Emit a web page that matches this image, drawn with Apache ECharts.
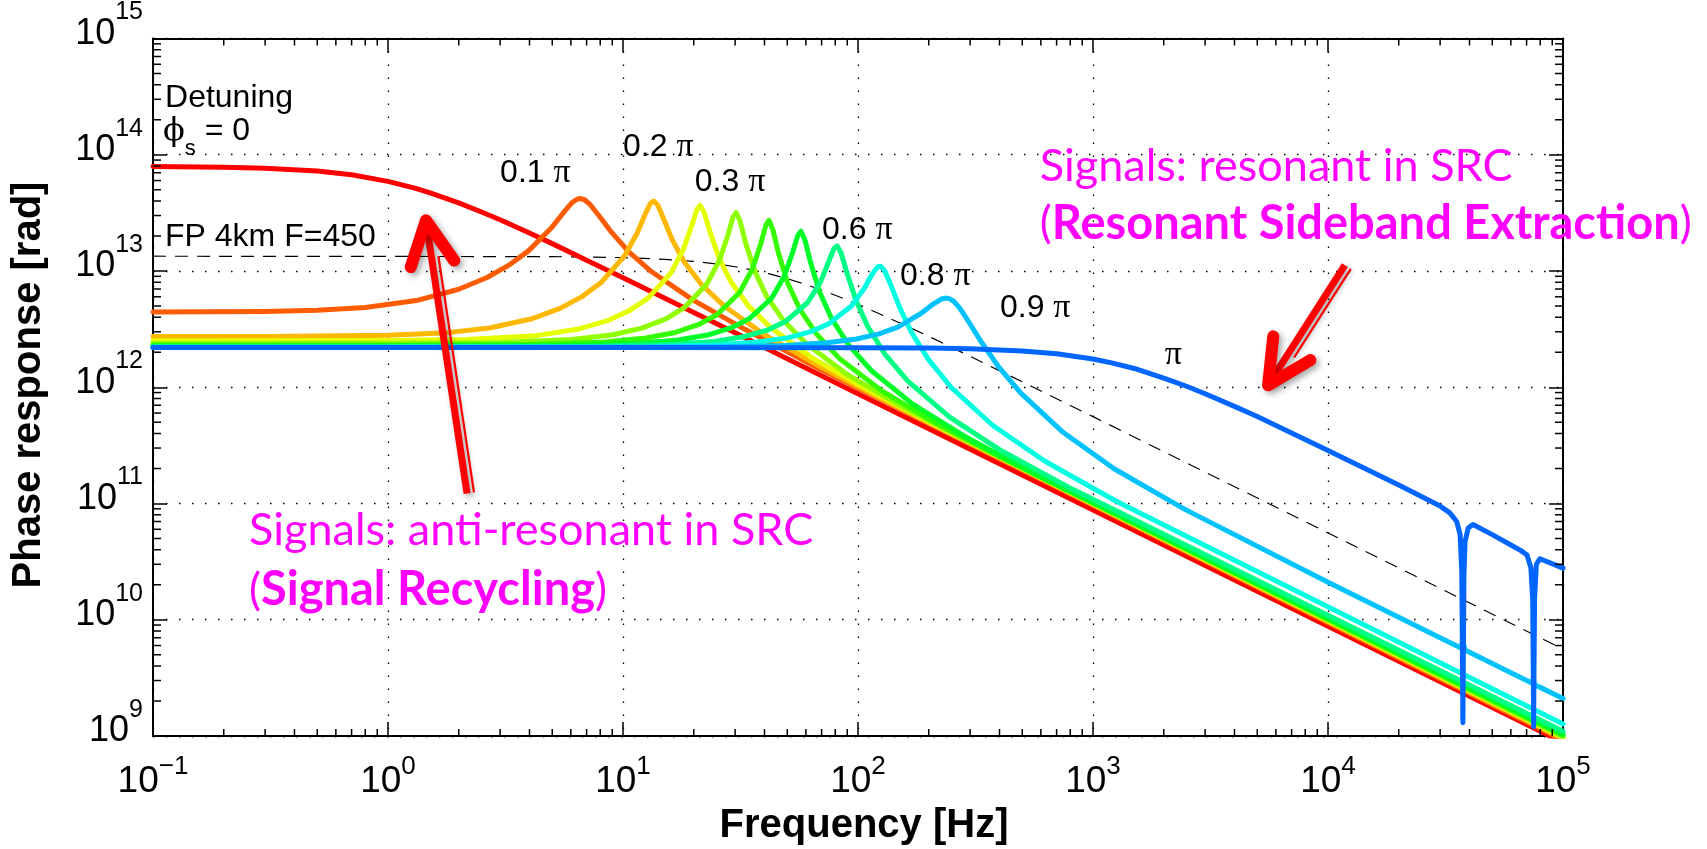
<!DOCTYPE html>
<html>
<head>
<meta charset="utf-8">
<title>Phase response vs frequency</title>
<script src="https://cdn.jsdelivr.net/npm/echarts@6.0.0/dist/echarts.min.js"></script>
<style>
html,body{margin:0;padding:0;background:#ffffff;}
#chart{width:1707px;height:849px;}
</style>
</head>
<body>
<div id="chart"></div>
<script>
// ---------------- data ----------------
const xTickExponents = [-1, 0, 1, 2, 3, 4, 5];
const yTickExponents = [9, 10, 11, 12, 13, 14, 15];
const minorMultipliers = [2, 3, 4, 5, 6, 7, 8, 9];
const detuningNames = ['0', '0.1 π', '0.2 π', '0.3 π', '0.4 π', '0.5 π', '0.6 π', '0.7 π', '0.8 π', '0.9 π', 'π'];

// [frequency Hz, phase response rad]
const phi00 = [[0.1,7.91e13],[0.2,7.81e13],[0.3,7.66e13],[0.5,7.24e13],[0.7,6.72e13],[1,5.9e13],[1.3,5.16e13],[1.5,4.72e13],[2,3.85e13],[2.5,3.22e13],[3,2.76e13],[4,2.12e13],[5,1.72e13],[7,1.24e13],[10,8.76e12],[15,5.86e12],[20,4.4e12],[30,2.94e12],[50,1.76e12],[100,8.8e11],[100000,8.8e8]];
const phi01 = [[0.1,4.43e12],[0.3,4.49e12],[0.5,4.6e12],[0.8,4.86e12],[1.32,5.57e12],[2,6.97e12],[2.64,8.8e12],[3.3,1.135e13],[3.96,1.49e13],[4.95,2.34e13],[5.61,3.22e13],[6.07,3.87e13],[6.4,4.16e13],[6.6,4.2e13],[6.86,4.1e13],[7.26,3.72e13],[7.92,2.97e13],[8.91,2.17e13],[10.56,1.47e13],[13.2,9.9e12],[19.8,5.65e12],[33,3.15e12],[66,1.5e12],[100000,9.2e8]];
const phi02 = [[0.1,2.73e12],[0.3,2.735e12],[1,2.8e12],[1.8,2.95e12],[2.7,3.23e12],[4.05,3.86e12],[5.4,4.77e12],[6.75,6.08e12],[8.1,8.01e12],[10.13,1.34e13],[11.48,2.11e13],[12.42,3.08e13],[13.1,3.83e13],[13.5,4.0e13],[14.04,3.7e13],[14.85,2.84e13],[16.2,1.86e13],[18.2,1.2e13],[21.6,7.63e12],[27,4.97e12],[40.5,2.79e12],[67.5,1.54e12],[135,7.4e11],[100000,9.5e8]];
const phi03 = [[0.1,2.5e12],[1,2.52e12],[2.13,2.57e12],[4.26,2.78e12],[6.39,3.15e12],[8.52,3.72e12],[10.65,4.56e12],[12.78,5.84e12],[15.98,9.6e12],[18.1,1.55e13],[19.6,2.45e13],[20.66,3.4e13],[21.3,3.66e13],[22.15,3.2e13],[23.43,2.18e13],[25.56,1.31e13],[28.76,8.08e12],[34.08,5.04e12],[42.6,3.24e12],[63.9,1.79e12],[106.5,9.87e11],[213,4.72e11],[100000,9.7e8]];
const phi04 = [[0.1,2.38e12],[1,2.39e12],[3.03,2.43e12],[6.06,2.57e12],[9.09,2.83e12],[12.12,3.24e12],[15.15,3.85e12],[18.18,4.81e12],[22.7,7.68e12],[25.76,1.24e13],[27.88,2.0e13],[29.39,2.91e13],[30.3,3.19e13],[31.5,2.68e13],[33.3,1.72e13],[36.4,9.93e12],[40.9,6.02e12],[48.5,3.69e12],[60.6,2.34e12],[90.9,1.27e12],[151.5,6.96e11],[303,3.33e11],[100000,9.9e8]];
const phi05 = [[0.1,2.3e12],[1,2.3e12],[4.18,2.34e12],[8.36,2.45e12],[12.54,2.65e12],[16.72,2.96e12],[20.9,3.45e12],[25.08,4.21e12],[31.35,6.53e12],[35.53,1.04e13],[38.46,1.68e13],[40.55,2.48e13],[41.8,2.73e13],[43.47,2.25e13],[45.98,1.4e13],[50.16,7.93e12],[56.43,4.73e12],[66.88,2.84e12],[83.6,1.76e12],[125.4,9.41e11],[209,5.07e11],[418,2.43e11],[100000,1.01e9]];
const phi06 = [[0.1,2.26e12],[1,2.26e12],[5.72,2.29e12],[11.44,2.38e12],[17.16,2.55e12],[22.88,2.81e12],[28.6,3.22e12],[34.32,3.86e12],[42.9,5.83e12],[48.62,9.06e12],[52.62,1.43e13],[55.48,2.03e13],[57.2,2.2e13],[59.49,1.84e13],[62.92,1.17e13],[68.64,6.61e12],[77.22,3.89e12],[91.52,2.29e12],[114.4,1.38e12],[171.6,7.13e11],[286,3.76e11],[572,1.78e11],[100000,1.04e9]];
const phi07 = [[0.1,2.23e12],[1,2.23e12],[8.15,2.256e12],[16.3,2.34e12],[24.45,2.48e12],[32.6,2.72e12],[40.75,3.08e12],[48.9,3.65e12],[61.1,5.36e12],[69.3,8.07e12],[75,1.2e13],[79.05,1.57e13],[81.5,1.64e13],[84.76,1.43e13],[89.65,9.72e12],[97.8,5.67e12],[110,3.33e12],[130.4,1.92e12],[163,1.13e12],[244.5,5.57e11],[407.5,2.84e11],[815,1.33e11],[100000,1.1e9]];
const phi08 = [[0.1,2.21e12],[1,2.21e12],[12.5,2.234e12],[25,2.31e12],[37.5,2.45e12],[50,2.66e12],[62.5,2.99e12],[75,3.51e12],[93.75,5.0e12],[106.25,7.08e12],[115,9.41e12],[121.25,1.087e13],[125,1.1e13],[130,1.0e13],[137.5,7.71e12],[150,4.91e12],[168.75,2.97e12],[200,1.72e12],[250,9.9e11],[375,4.69e11],[625,2.31e11],[1250,1.05e11],[100000,1.27e9]];
const phi09 = [[0.1,2.2e12],[1,2.2e12],[24.6,2.222e12],[49.2,2.29e12],[73.8,2.41e12],[98.4,2.6e12],[123,2.88e12],[147.6,3.29e12],[184.5,4.29e12],[209,5.2e12],[226,5.74e12],[238.6,5.85e12],[246,5.76e12],[255.8,5.47e12],[270.6,4.81e12],[295.2,3.68e12],[332,2.51e12],[393.6,1.53e12],[492,8.95e11],[738,4.17e11],[1230,1.99e11],[2460,8.9e10],[10000,2.1e10],[30000,7.0e9],[35000,6.0e9],[36900,5.7e9],[37400,6.6e9],[37700,6.2e9],[38300,5.5e9],[40000,5.25e9],[70000,3.0e9],[74000,2.85e9],[74800,3.2e9],[75300,2.9e9],[76000,2.75e9],[80000,2.62e9],[100000,2.1e9]];
const phi10 = [[0.1,2.2e12],[10,2.2e12],[100,2.19e12],[200,2.175e12],[300,2.145e12],[500,2.055e12],[700,1.94e12],[1000,1.75e12],[1200,1.62e12],[1500,1.45e12],[2000,1.2e12],[2500,1.02e12],[3000,8.8e11],[4000,6.85e11],[5000,5.6e11],[7000,4.05e11],[10000,2.86e11],[20000,1.44e11],[30000,9.5e10],[33000,8.3e10],[35300,7.0e10],[36500,5.4e10],[37100,2.5e10],[37400,3e9],[37500,1.3e9],[37600,3e9],[37900,2.5e10],[38300,4.7e10],[39500,6.15e10],[41400,6.6e10],[50000,5.4e10],[60000,4.4e10],[66000,3.95e10],[70300,3.6e10],[73000,2.8e10],[74300,1.5e10],[74800,3e9],[75000,1.2e9],[75200,3e9],[75700,1.5e10],[77000,3.0e10],[79800,3.35e10],[100000,2.78e10]];
const fpReference = [[0.1,1.34e13],[5,1.33e13],[10,1.303e13],[15,1.261e13],[20,1.208e13],[25,1.149e13],[30,1.088e13],[35,1.026e13],[41.7,9.48e12],[50,8.58e12],[60,7.65e12],[70,6.86e12],[80,6.19e12],[100,5.16e12],[150,3.59e12],[200,2.74e12],[300,1.845e12],[500,1.114e12],[1000,5.59e11],[100000,5.59e9]];

// annotation anchors in data coordinates [frequency, value] (left edge, vertical middle)
const noteDetuning = [0.1125, 3.07e14];
const notePhi = [0.1103, 1.59e14];
const noteFP = [0.1125, 1.97e13];
const curveLabelAnchors = [
  ['0.1', [3.0, 6.89e13]],
  ['0.2', [10.0, 1.16e14]],
  ['0.3', [20.2, 5.82e13]],
  ['0.6', [70.3, 2.26e13]],
  ['0.8', [151, 9.06e12]],
  ['0.9', [402, 4.83e12]],
  ['', [2020, 1.91e12]]
];
const noteRSE1 = [594, 7.89e13];
const noteRSE2 = [594, 2.57e13];
const noteSR1 = [0.2562, 5.82e10];
const noteSR2 = [0.2562, 1.8e10];
const arrowSR = {tail: [2.17, 1.22e11], tip: [1.45, 2.73e13], side: 1};
const arrowRSE = {tail: [11800, 1.125e13], tip: [5560, 1.04e12], side: -1};

// ---------------- styling ----------------
const FONT = "'Liberation Sans', Arial, Helvetica, sans-serif";
const SERIF = "'Liberation Serif', 'DejaVu Serif', serif";
const MAG_FONT = "Lato, 'Open Sans', sans-serif";
const MAGENTA = '#FF00FF';
const curveColors = ['#FF0000','#FF5C00','#FFB800','#E6FF00','#8FFF00','#33FF00','#00FF29','#00FF85','#00FFE0','#00C2FF','#0066FF'];

function powLabel(v) {
  const e = Math.round(Math.log10(v));
  return '{b|10}{s|' + (e < 0 ? '\u2212' + (-e) : String(e)) + '}';
}

const xMinor = [];
xTickExponents.slice(0, -1).forEach(e => minorMultipliers.forEach(m => xMinor.push([m * Math.pow(10, e), 1e12])));
const yMinor = [];
yTickExponents.slice(0, -1).forEach(e => minorMultipliers.forEach(m => yMinor.push([1, m * Math.pow(10, e)])));

const chart = echarts.init(document.getElementById('chart'), null, {renderer: 'canvas'});

const gridDots = {color: '#000', width: 1.3, type: [1.5, 11.5]};
const xRich = {
  b: {fontSize: 37, fontFamily: FONT, color: '#000', lineHeight: 37, verticalAlign: 'bottom'},
  s: {fontSize: 26, fontFamily: FONT, color: '#000', lineHeight: 26, verticalAlign: 'bottom', padding: [0, 0, 20, 0]}
};
const yRich = {
  b: {fontSize: 36, fontFamily: FONT, color: '#000', lineHeight: 36, verticalAlign: 'bottom'},
  s: {fontSize: 25, fontFamily: FONT, color: '#000', lineHeight: 25, verticalAlign: 'bottom', padding: [0, 0, 27, 0]}
};

const series = [];
series.push({
  type: 'line', name: 'FP 4km F=450', data: fpReference, showSymbol: false, smooth: false,
  lineStyle: {color: '#000', width: 1.2, type: [13, 9]}, silent: true, z: 2
});
[phi00, phi01, phi02, phi03, phi04, phi05, phi06, phi07, phi08, phi09, phi10].forEach((d, i) => {
  series.push({
    type: 'line', name: detuningNames[i], data: d, showSymbol: false, smooth: false,
    lineStyle: {color: curveColors[i], width: 5, cap: 'round', join: 'round'}, silent: true, z: 3 + i
  });
});
series.push({
  type: 'custom', name: 'xMinorTicks', data: xMinor, encode: {x: 0, y: 1}, clip: false, silent: true, z: 20,
  renderItem: (params, api) => {
    const cs = params.coordSys;
    const x = api.coord([api.value(0), 1e12])[0];
    const yb = cs.y + cs.height, yt = cs.y;
    return {type: 'group', children: [
      {type: 'line', shape: {x1: x, y1: yb, x2: x, y2: yb - 7}, style: {stroke: '#000', lineWidth: 1.5}},
      {type: 'line', shape: {x1: x, y1: yt, x2: x, y2: yt + 7}, style: {stroke: '#000', lineWidth: 1.5}}
    ]};
  }
});
series.push({
  type: 'custom', name: 'yMinorTicks', data: yMinor, encode: {x: 0, y: 1}, clip: false, silent: true, z: 20,
  renderItem: (params, api) => {
    const cs = params.coordSys;
    const y = api.coord([1, api.value(1)])[1];
    const xl = cs.x, xr = cs.x + cs.width;
    return {type: 'group', children: [
      {type: 'line', shape: {x1: xl, y1: y, x2: xl + 8, y2: y}, style: {stroke: '#000', lineWidth: 1.5}},
      {type: 'line', shape: {x1: xr, y1: y, x2: xr - 8, y2: y}, style: {stroke: '#000', lineWidth: 1.5}}
    ]};
  }
});

const axisLineStyle = {show: true, onZero: false, lineStyle: {color: '#000', width: 2}};
const tickStyle = {show: true, inside: true, length: 14, lineStyle: {color: '#000', width: 1.5}};

chart.setOption({
  animation: false,
  backgroundColor: '#ffffff',
  grid: {left: 153, right: 144, top: 34, bottom: 113, containLabel: false},
  xAxis: [
    {type: 'log', logBase: 10, min: 0.1, max: 1e5, position: 'bottom',
      axisLine: axisLineStyle, axisTick: tickStyle,
      axisLabel: {formatter: powLabel, rich: xRich, margin: 27},
      splitLine: {show: true, lineStyle: gridDots}},
    {type: 'log', logBase: 10, min: 0.1, max: 1e5, position: 'top',
      axisLine: axisLineStyle, axisTick: tickStyle, axisLabel: {show: false}, splitLine: {show: false}}
  ],
  yAxis: [
    {type: 'log', logBase: 10, min: 1e9, max: 1e15, position: 'left',
      axisLine: axisLineStyle, axisTick: tickStyle,
      axisLabel: {formatter: powLabel, rich: yRich, margin: 10, padding: [0, 0, 9, 0]},
      splitLine: {show: true, lineStyle: gridDots}},
    {type: 'log', logBase: 10, min: 1e9, max: 1e15, position: 'right',
      axisLine: axisLineStyle, axisTick: tickStyle, axisLabel: {show: false}, splitLine: {show: false}}
  ],
  series: series
});

// ---------------- annotations ----------------
function P(pt) { return chart.convertToPixel({xAxisIndex: 0, yAxisIndex: 0}, pt); }

function textEl(pt, text, rich, extra) {
  const p = P(pt);
  return Object.assign({
    type: 'text', x: p[0], y: p[1], silent: true, z: 100,
    style: {text: text, rich: rich, align: 'left', verticalAlign: 'middle', textAlign: 'left', textVerticalAlign: 'middle'}
  }, extra || {});
}

function arrowEls(a) {
  const T = P(a.tip), S = P(a.tail);
  const dx = T[0] - S[0], dy = T[1] - S[1];
  const len = Math.sqrt(dx * dx + dy * dy);
  const ux = dx / len, uy = dy / len;
  const nx = -uy, ny = ux;
  const hl = 44, hw = 22;
  const shadow = {shadowBlur: 6, shadowColor: 'rgba(0,0,0,0.35)', shadowOffsetX: 3, shadowOffsetY: 3};
  const W1 = [T[0] - ux * hl + nx * hw, T[1] - uy * hl + ny * hw];
  const W2 = [T[0] - ux * hl - nx * hw, T[1] - uy * hl - ny * hw];
  const off = 7 * a.side;
  return [
    {type: 'line', silent: true, z: 90, shape: {x1: S[0], y1: S[1], x2: T[0] - ux * 6, y2: T[1] - uy * 6},
      style: Object.assign({stroke: '#FF0000', lineWidth: 7, lineCap: 'butt'}, shadow)},
    {type: 'line', silent: true, z: 91, shape: {x1: S[0] + nx * off, y1: S[1] + ny * off, x2: T[0] - ux * hl * 0.85 + nx * off, y2: T[1] - uy * hl * 0.85 + ny * off},
      style: {stroke: '#FF0000', lineWidth: 2.2}},
    {type: 'polyline', silent: true, z: 92, shape: {points: [W1, T, W2]},
      style: Object.assign({stroke: '#FF0000', lineWidth: 12, lineCap: 'round', lineJoin: 'round', fill: null}, shadow)}
  ];
}

const blackRich = {
  n: {fontSize: 32, fontFamily: FONT, fill: '#000', color: '#000'},
  p: {fontSize: 34, fontFamily: SERIF, fill: '#000', color: '#000'}
};
const graphics = [];
graphics.push(textEl(noteDetuning, '{n|Detuning}', blackRich));
graphics.push(textEl(notePhi, '{f|\u03D5}{s|s}{n| = 0}', {
  f: {fontSize: 32, fontFamily: "'DejaVu Serif', 'Liberation Serif', serif", fill: '#000', verticalAlign: 'middle'},
  s: {fontSize: 22, fontFamily: FONT, fill: '#000', lineHeight: 22, verticalAlign: 'middle', padding: [36, 0, 0, 0]},
  n: {fontSize: 32, fontFamily: FONT, fill: '#000', verticalAlign: 'middle'}
}));
graphics.push(textEl(noteFP, '{n|FP 4km F=450}', blackRich));
curveLabelAnchors.forEach(([num, pt]) => {
  const t = num ? '{n|' + num + ' }{p|π}' : '{p|π}';
  graphics.push(textEl(pt, t, blackRich));
});
const magRich = {
  r: {fontSize: 45, fontFamily: MAG_FONT, fill: MAGENTA, color: MAGENTA, fontWeight: 'normal'},
  b: {fontSize: 47, fontFamily: MAG_FONT, fill: MAGENTA, color: MAGENTA, fontWeight: 'bold'}
};
graphics.push(textEl(noteRSE1, '{r|Signals: resonant in SRC}', magRich));
graphics.push(textEl(noteRSE2, '{r|(}{b|Resonant Sideband Extraction}{r|)}', magRich));
graphics.push(textEl(noteSR1, '{r|Signals: anti-resonant in SRC}', magRich));
graphics.push(textEl(noteSR2, '{r|(}{b|Signal Recycling}{r|)}', magRich));
arrowEls(arrowSR).forEach(e => graphics.push(e));
arrowEls(arrowRSE).forEach(e => graphics.push(e));

// axis titles
graphics.push({type: 'text', x: 864, y: 826, silent: true, z: 100,
  style: {text: 'Frequency [Hz]', fontSize: 40, fontWeight: 'bold', fontFamily: FONT, fill: '#000',
    align: 'center', verticalAlign: 'middle', textAlign: 'center', textVerticalAlign: 'middle'}});
graphics.push({type: 'text', x: 29, y: 385, rotation: Math.PI / 2, silent: true, z: 100,
  style: {text: 'Phase response [rad]', fontSize: 40, fontWeight: 'bold', fontFamily: FONT, fill: '#000',
    align: 'center', verticalAlign: 'middle', textAlign: 'center', textVerticalAlign: 'middle'}});

chart.setOption({graphic: {elements: graphics}});
</script>
</body>
</html>
